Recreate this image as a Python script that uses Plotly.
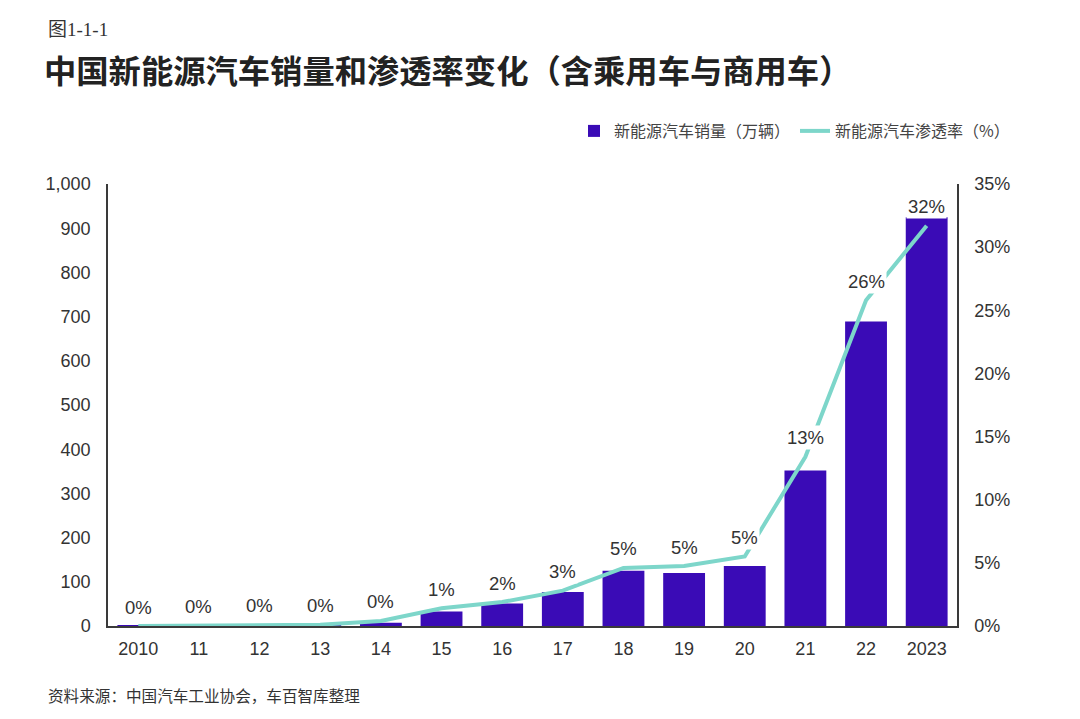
import plotly.graph_objects as go

# ---- data ----
years = ["2010", "11", "12", "13", "14", "15", "16", "17", "18", "19", "20", "21", "22", "2023"]
sales = [0.5, 0.8, 1.3, 1.8, 7.5, 33, 51, 77, 125, 120, 136, 352, 689, 925]          # 万辆
rate = [0.0, 0.05, 0.1, 0.1, 0.4, 1.4, 1.9, 2.8, 4.6, 4.75, 5.5, 13.4, 25.8, 31.7]    # %
rate_labels = ["0%", "0%", "0%", "0%", "0%", "1%", "2%", "3%", "5%", "5%", "5%", "13%", "26%", "32%"]
left_ticks = [0, 100, 200, 300, 400, 500, 600, 700, 800, 900, 1000]
left_tick_text = ["0", "100", "200", "300", "400", "500", "600", "700", "800", "900", "1,000"]
right_ticks = [0, 5, 10, 15, 20, 25, 30, 35]
right_tick_text = ["0%", "5%", "10%", "15%", "20%", "25%", "30%", "35%"]

OFF = 8  # page body margin
W, H = 1080 - OFF, 719 - OFF
L, R, T, B = 108 - OFF, 1080 - 957, 184 - OFF, 719 - 626
pw, ph = W - L - R, H - T - B

NUM = "Liberation Sans, Arial, sans-serif"
CJK = "Noto Sans CJK SC, sans-serif"
BAR = "#3a0bb6"
LINE = "#7dd6ca"
AX = "#3a3a3a"

fig = go.Figure()
fig.add_trace(go.Bar(
    x=years, y=sales, name="新能源汽车销量（万辆）",
    marker=dict(color=BAR, line=dict(width=0)), width=0.69,
    yaxis="y",
))
fig.add_trace(go.Scatter(
    x=years, y=rate, name="新能源汽车渗透率（%）", mode="lines",
    line=dict(color=LINE, width=4), yaxis="y2",
))

ann = []
for i, (v, lab) in enumerate(zip(rate, rate_labels)):
    ann.append(dict(x=i, y=v, xref="x", yref="y2", text=lab, showarrow=False,
                    yshift=19, yanchor="middle", bgcolor="white", borderpad=1,
                    font=dict(family=NUM, size=18.5, color="#333333")))

def px_x(p):
    return (p - OFF - L) / pw

def px_y(p):
    return (H - B - (p - OFF)) / ph

ann.append(dict(x=px_x(46), y=px_y(30), xref="paper", yref="paper", text="图1-1-1",
                showarrow=False, xanchor="left", yanchor="middle",
                font=dict(family="Liberation Serif, " + CJK, size=19, color="#333333")))
ann.append(dict(x=px_x(46), y=px_y(695), xref="paper", yref="paper",
                text="资料来源：中国汽车工业协会，车百智库整理",
                showarrow=False, xanchor="left", yanchor="middle",
                font=dict(family=CJK, size=15.6, color="#333333")))

fig.update_layout(
    width=W, height=H,
    margin=dict(l=L, r=R, t=T, b=B, pad=0),
    paper_bgcolor="white", plot_bgcolor="white",
    title=dict(text="<b>中国新能源汽车销量和渗透率变化（含乘用车与商用车）</b>",
               xref="container", yref="container", x=(44 - OFF) / W, xanchor="left",
               y=1 - (72 - OFF) / H, yanchor="middle",
               font=dict(family=CJK, size=32.3, color="#222222")),
    showlegend=True,
    legend=dict(orientation="h", x=px_x(1015), xanchor="right", y=px_y(131), yanchor="middle",
                font=dict(family=CJK, size=16, color="#444444"), bgcolor="rgba(0,0,0,0)",
                itemwidth=30, tracegroupgap=0),
    xaxis=dict(type="category", range=[-0.5, 13.5], showline=True, linecolor=AX, linewidth=1.5,
               ticks="", showgrid=False, zeroline=False,
               tickfont=dict(family=NUM, size=18, color="#333333"), ticklabelstandoff=6),
    yaxis=dict(range=[0, 1000], tickvals=left_ticks, ticktext=left_tick_text, showline=True,
               linecolor=AX, linewidth=1.5, ticks="", showgrid=False, zeroline=False,
               tickfont=dict(family=NUM, size=18, color="#333333"), ticklabelstandoff=12),
    yaxis2=dict(range=[0, 35], tickvals=right_ticks, ticktext=right_tick_text, overlaying="y",
                side="right", showline=True, linecolor=AX, linewidth=1.5, ticks="",
                showgrid=False, zeroline=False,
                tickfont=dict(family=NUM, size=18, color="#333333"), ticklabelstandoff=12),
    annotations=ann,
)

fig.write_html("out.html")
